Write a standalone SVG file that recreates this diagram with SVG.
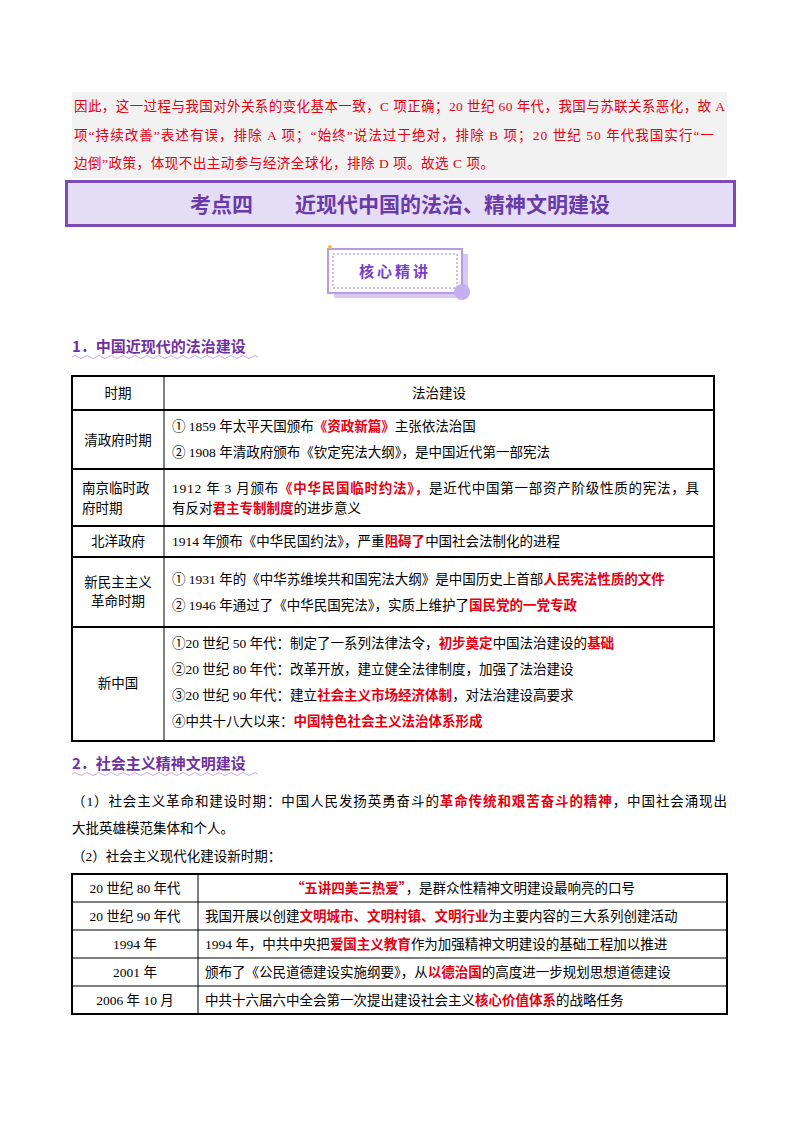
<svg xmlns="http://www.w3.org/2000/svg" width="800" height="1132" viewBox="0 0 800 1132">
<style>
text{font-family:"Liberation Serif","Noto Sans CJK SC",serif;font-size:13.5px;fill:#000}
.r{fill:#e60012;font-family:"Noto Sans CJK SC",sans-serif;font-weight:bold}
.rr{fill:#e60012}
.h{font-family:"Noto Sans CJK SC",sans-serif;font-weight:bold;fill:#7030a0;font-size:15px}
.t{fill:none;stroke:#000;stroke-width:1}
.o{fill:none;stroke:#000;stroke-width:2}
.c{text-anchor:middle}
</style>
<rect width="800" height="1132" fill="#fff"/>
<g id="note">
<rect x="72" y="92" width="655" height="86" fill="#f2f2f2"/>
<text x="74" y="111" class="rr" textLength="651" lengthAdjust="spacing">因此，这一过程与我国对外关系的变化基本一致，C 项正确；20 世纪 60 年代，我国与苏联关系恶化，故 A</text>
<text x="74" y="140" class="rr" textLength="640" lengthAdjust="spacing">项“持续改善”表述有误，排除 A 项；“始终”说法过于绝对，排除 B 项；20 世纪 50 年代我国实行“一</text>
<text x="74" y="168" class="rr" textLength="420" lengthAdjust="spacing">边倒”政策，体现不出主动参与经济全球化，排除 D 项。故选 C 项。</text>
</g>
<g id="title">
<rect x="66.5" y="181.5" width="668" height="44" fill="#e5dcf5" stroke="#7d4ab8" stroke-width="3"/>
<text x="400" y="212" class="c" style="font-family:'Noto Sans CJK SC',sans-serif;font-weight:bold;font-size:21px;fill:#6a3aa8" xml:space="preserve">考点四　　近现代中国的法治、精神文明建设</text>
</g>
<g id="badge">
<rect x="334" y="254" width="134" height="44" fill="#d9c8f2"/>
<rect x="328" y="249" width="134" height="44" fill="#fff" stroke="#b89ae6" stroke-width="2"/>
<rect x="333" y="254" width="124" height="34" fill="none" stroke="#a57ee0" stroke-width="1" stroke-dasharray="2,2"/>
<circle cx="462" cy="292" r="8" fill="#c6aeef"/>
<circle cx="330" cy="247" r="2" fill="#f0c040"/>
<text x="395" y="277" class="c" style="font-family:'Noto Sans CJK SC',sans-serif;font-weight:bold;font-size:15px;fill:#7a3fc7;letter-spacing:3px">核心精讲</text>
</g>
<g id="sec1">
<text x="72" y="352" class="h">1．中国近现代的法治建设</text>
<path d="M72 357 q3 -3 6 0 t6 0 t6 0 t6 0 t6 0 t6 0 t6 0 t6 0 t6 0 t6 0 t6 0 t6 0 t6 0 t6 0 t6 0 t6 0 t6 0 t6 0 t6 0 t6 0 t6 0 t6 0 t6 0 t6 0 t6 0 t6 0 t6 0 t6 0 t6 0 t6 0 t6 0" fill="none" stroke="#c9a8e8" stroke-width="1"/>
</g>
<g id="table1">
<rect x="72" y="376" width="642" height="365" class="o"/>
<line x1="164" y1="376" x2="164" y2="741" class="t"/>
<line x1="72" y1="410" x2="714" y2="410" class="o"/>
<line x1="72" y1="469" x2="714" y2="469" class="o"/>
<line x1="72" y1="526" x2="714" y2="526" class="o"/>
<line x1="72" y1="557" x2="714" y2="557" class="o"/>
<line x1="72" y1="627" x2="714" y2="627" class="o"/>
<text x="118" y="398" class="c">时期</text>
<text x="439" y="398" class="c">法治建设</text>
<text x="118" y="445" class="c">清政府时期</text>
<text x="172" y="431">① 1859 年太平天国颁布<tspan class="r">《资政新篇》</tspan>主张依法治国</text>
<text x="172" y="457">② 1908 年清政府颁布《钦定宪法大纲》，是中国近代第一部宪法</text>
<text x="82" y="493">南京临时政</text>
<text x="82" y="513">府时期</text>
<text x="172" y="493" textLength="527" lengthAdjust="spacing">1912 年 3 月颁布<tspan class="r">《中华民国临时约法》，</tspan>是近代中国第一部资产阶级性质的宪法，具</text>
<text x="172" y="513">有反对<tspan class="r">君主专制制度</tspan>的进步意义</text>
<text x="118" y="546" class="c">北洋政府</text>
<text x="172" y="546">1914 年颁布《中华民国约法》，严重<tspan class="r">阻碍了</tspan>中国社会法制化的进程</text>
<text x="118" y="587" class="c">新民主主义</text>
<text x="118" y="606" class="c">革命时期</text>
<text x="172" y="584">①  1931 年的《中华苏维埃共和国宪法大纲》是中国历史上首部<tspan class="r">人民宪法性质的文件</tspan></text>
<text x="172" y="610">②  1946 年通过了《中华民国宪法》，实质上维护了<tspan class="r">国民党的一党专政</tspan></text>
<text x="118" y="688" class="c">新中国</text>
<text x="172" y="648">①20 世纪 50 年代：制定了一系列法律法令，<tspan class="r">初步奠定</tspan>中国法治建设的<tspan class="r">基础</tspan></text>
<text x="172" y="674">②20 世纪 80 年代：改革开放，建立健全法律制度，加强了法治建设</text>
<text x="172" y="700">③20 世纪 90 年代：建立<tspan class="r">社会主义市场经济体制</tspan>，对法治建设高要求</text>
<text x="172" y="726">④中共十八大以来：<tspan class="r">中国特色社会主义法治体系形成</tspan></text>
</g>
<g id="sec2">
<text x="72" y="769" class="h">2．社会主义精神文明建设</text>
<path d="M72 774 q3 -3 6 0 t6 0 t6 0 t6 0 t6 0 t6 0 t6 0 t6 0 t6 0 t6 0 t6 0 t6 0 t6 0 t6 0 t6 0 t6 0 t6 0 t6 0 t6 0 t6 0 t6 0 t6 0 t6 0 t6 0 t6 0 t6 0 t6 0 t6 0 t6 0 t6 0 t6 0" fill="none" stroke="#c9a8e8" stroke-width="1"/>
<text x="72" y="806" textLength="655" lengthAdjust="spacing">（1）社会主义革命和建设时期：中国人民发扬英勇奋斗的<tspan class="r">革命传统和艰苦奋斗的精神</tspan>，中国社会涌现出</text>
<text x="72" y="833">大批英雄模范集体和个人。</text>
<text x="72" y="861">（2）社会主义现代化建设新时期：</text>
</g>
<g id="table2">
<rect x="72" y="874" width="655" height="140" class="o"/>
<line x1="198" y1="874" x2="198" y2="1014" class="t"/>
<line x1="72" y1="902" x2="727" y2="902" class="t"/>
<line x1="72" y1="930" x2="727" y2="930" class="t"/>
<line x1="72" y1="958" x2="727" y2="958" class="t"/>
<line x1="72" y1="986" x2="727" y2="986" class="t"/>
<text x="135" y="893" class="c">20 世纪 80 年代</text>
<text x="463" y="893" class="c"><tspan class="r">“五讲四美三热爱”</tspan>，是群众性精神文明建设最响亮的口号</text>
<text x="135" y="921" class="c">20 世纪 90 年代</text>
<text x="205" y="921">我国开展以创建<tspan class="r">文明城市、文明村镇、文明行业</tspan>为主要内容的三大系列创建活动</text>
<text x="135" y="949" class="c">1994 年</text>
<text x="205" y="949">1994 年，中共中央把<tspan class="r">爱国主义教育</tspan>作为加强精神文明建设的基础工程加以推进</text>
<text x="135" y="977" class="c">2001 年</text>
<text x="205" y="977">颁布了《公民道德建设实施纲要》，从<tspan class="r">以德治国</tspan>的高度进一步规划思想道德建设</text>
<text x="135" y="1005" class="c">2006 年 10 月</text>
<text x="205" y="1005">中共十六届六中全会第一次提出建设社会主义<tspan class="r">核心价值体系</tspan>的战略任务</text>
</g>
</svg>
